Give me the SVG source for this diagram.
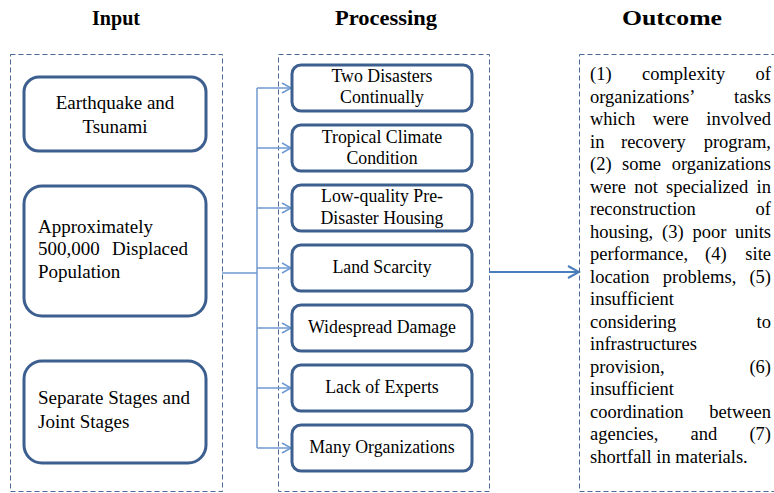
<svg xmlns="http://www.w3.org/2000/svg" width="774" height="493" viewBox="0 0 774 493">
<defs>
<style>
.hdr{font-family:"Liberation Serif","Times New Roman",serif;font-weight:bold;font-size:21px;fill:#000}
.dash{fill:none;stroke:#4a6c9b;stroke-width:1;stroke-dasharray:5,3}
.box{fill:#fff;stroke:#3d5f8f;stroke-width:3}
.t19{font-family:"Liberation Serif","Times New Roman",serif;font-size:19px;fill:#000}
.t18{font-family:"Liberation Serif","Times New Roman",serif;font-size:17.8px;fill:#000;text-anchor:middle}
.out{font-family:"Liberation Serif","Times New Roman",serif;font-size:18.5px;fill:#000}
.con{fill:none;stroke:#6f9ad0;stroke-width:1.5}
.main{fill:none;stroke:#4a7ebb;stroke-width:2}
</style>
<marker id="ah" markerWidth="12" markerHeight="12" refX="10" refY="6" orient="auto" markerUnits="userSpaceOnUse">
<path d="M1,1 L10,6 L1,11" fill="none" stroke="#6f9ad0" stroke-width="1.5"/>
</marker>
<marker id="ah2" markerWidth="14" markerHeight="14" refX="12" refY="7" orient="auto" markerUnits="userSpaceOnUse">
<path d="M1,1 L12,7 L1,13" fill="none" stroke="#4a7ebb" stroke-width="2"/>
</marker>
</defs>
<rect width="774" height="493" fill="#fff"/>

<g id="headers">
<text class="hdr" x="92" y="25" textLength="48" lengthAdjust="spacingAndGlyphs">Input</text>
<text class="hdr" x="335" y="25" textLength="102" lengthAdjust="spacingAndGlyphs">Processing</text>
<text class="hdr" x="622" y="25" textLength="100" lengthAdjust="spacingAndGlyphs">Outcome</text>
</g>

<g id="input-group"><rect class="dash" x="10.5" y="54.5" width="212" height="437"/></g>
<g id="processing-group"><rect class="dash" x="278.5" y="54.5" width="211" height="437"/></g>

<g id="connectors">
<path class="con" d="M222,273 H257"/>
<path class="con" d="M257,88 V448"/>
<path class="con" d="M257,88 H291" marker-end="url(#ah)"/>
<path class="con" d="M257,148 H291" marker-end="url(#ah)"/>
<path class="con" d="M257,208 H291" marker-end="url(#ah)"/>
<path class="con" d="M257,268 H291" marker-end="url(#ah)"/>
<path class="con" d="M257,328 H291" marker-end="url(#ah)"/>
<path class="con" d="M257,388 H291" marker-end="url(#ah)"/>
<path class="con" d="M257,448 H291" marker-end="url(#ah)"/>
<path class="main" d="M489,272 H579" marker-end="url(#ah2)"/>
</g>

<g id="earthquake">
<rect class="box" x="24" y="77" width="182" height="74" rx="15"/>
<text class="t19" x="115" y="109" text-anchor="middle">Earthquake and</text>
<text class="t19" x="115" y="133" text-anchor="middle">Tsunami</text>
</g>
<g id="displaced">
<rect class="box" x="24" y="186" width="182" height="130" rx="18"/>
<text class="t19" x="38" y="233">Approximately</text>
<text class="t19" x="38" y="255">500,000</text>
<text class="t19" x="188" y="255" text-anchor="end">Displaced</text>
<text class="t19" x="38" y="278">Population</text>
</g>
<g id="stages">
<rect class="box" x="24" y="361" width="182" height="102" rx="18"/>
<text class="t19" x="38" y="404">Separate Stages and</text>
<text class="t19" x="38" y="428">Joint Stages</text>
</g>

<g id="p1"><rect class="box" x="292" y="65" width="180" height="46" rx="9"/>
<text class="t18" x="382" y="82">Two Disasters</text><text class="t18" x="382" y="103">Continually</text></g>
<g id="p2"><rect class="box" x="292" y="125" width="180" height="46" rx="9"/>
<text class="t18" x="382" y="143">Tropical Climate</text><text class="t18" x="382" y="164">Condition</text></g>
<g id="p3"><rect class="box" x="292" y="185" width="180" height="46" rx="9"/>
<text class="t18" x="382" y="202">Low-quality Pre-</text><text class="t18" x="382" y="224">Disaster Housing</text></g>
<g id="p4"><rect class="box" x="292" y="245" width="180" height="46" rx="9"/>
<text class="t18" x="382" y="273">Land Scarcity</text></g>
<g id="p5"><rect class="box" x="292" y="305" width="180" height="46" rx="9"/>
<text class="t18" x="382" y="333">Widespread Damage</text></g>
<g id="p6"><rect class="box" x="292" y="365" width="180" height="46" rx="9"/>
<text class="t18" x="382" y="393">Lack of Experts</text></g>
<g id="p7"><rect class="box" x="292" y="425" width="180" height="46" rx="9"/>
<text class="t18" x="382" y="453">Many Organizations</text></g>

<g id="outcome">
<rect class="dash" x="579.5" y="54.5" width="200" height="437"/>
<text class="out">
<tspan x="590" y="80">(1)</tspan><tspan x="642" y="80">complexity</tspan><tspan x="771" y="80" text-anchor="end">of</tspan>
</text>
<text class="out"><tspan x="590" y="102.5">organizations’</tspan><tspan x="771" y="102.5" text-anchor="end">tasks</tspan></text>
<text class="out"><tspan x="590" y="125">which</tspan><tspan x="652.8" y="125">were</tspan><tspan x="771" y="125" text-anchor="end">involved</tspan></text>
<text class="out"><tspan x="590" y="147.5">in</tspan><tspan x="621" y="147.5">recovery</tspan><tspan x="771" y="147.5" text-anchor="end">program,</tspan></text>
<text class="out"><tspan x="590" y="170">(2)</tspan><tspan x="622" y="170">some</tspan><tspan x="771" y="170" text-anchor="end">organizations</tspan></text>
<text class="out"><tspan x="590" y="192.5">were</tspan><tspan x="634.2" y="192.5">not</tspan><tspan x="666.1" y="192.5">specialized</tspan><tspan x="771" y="192.5" text-anchor="end">in</tspan></text>
<text class="out"><tspan x="590" y="215">reconstruction</tspan><tspan x="771" y="215" text-anchor="end">of</tspan></text>
<text class="out"><tspan x="590" y="237.5">housing,</tspan><tspan x="662" y="237.5">(3)</tspan><tspan x="692.4" y="237.5">poor</tspan><tspan x="771" y="237.5" text-anchor="end">units</tspan></text>
<text class="out"><tspan x="590" y="260">performance,</tspan><tspan x="705" y="260">(4)</tspan><tspan x="771" y="260" text-anchor="end">site</tspan></text>
<text class="out"><tspan x="590" y="282.5">location</tspan><tspan x="662.8" y="282.5">problems,</tspan><tspan x="771" y="282.5" text-anchor="end">(5)</tspan></text>
<text class="out" x="590" y="305">insufficient</text>
<text class="out"><tspan x="590" y="327.5">considering</tspan><tspan x="771" y="327.5" text-anchor="end">to</tspan></text>
<text class="out" x="590" y="350">infrastructures</text>
<text class="out"><tspan x="590" y="372.5">provision,</tspan><tspan x="771" y="372.5" text-anchor="end">(6)</tspan></text>
<text class="out" x="590" y="395">insufficient</text>
<text class="out"><tspan x="590" y="417.5">coordination</tspan><tspan x="771" y="417.5" text-anchor="end">between</tspan></text>
<text class="out"><tspan x="590" y="440">agencies,</tspan><tspan x="690.5" y="440">and</tspan><tspan x="771" y="440" text-anchor="end">(7)</tspan></text>
<text class="out" x="590" y="462.5">shortfall in materials.</text>
</g>
</svg>
